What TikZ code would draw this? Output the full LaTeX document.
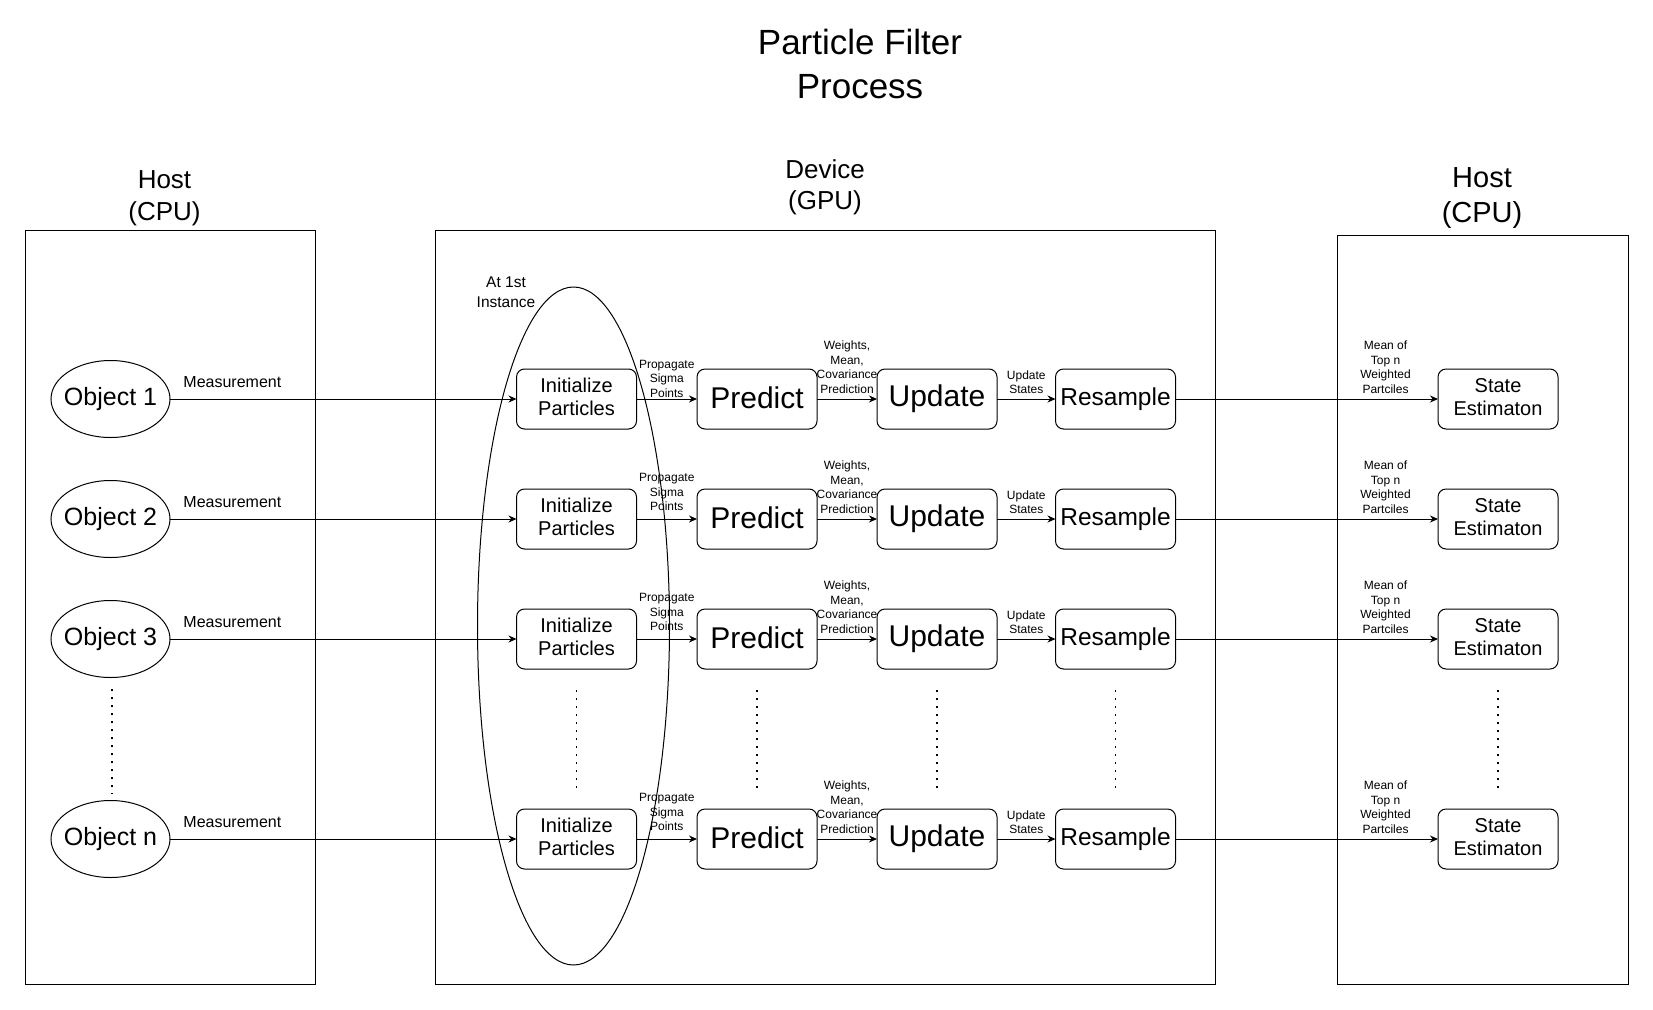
\documentclass[tikz,border=0pt]{standalone}
\usepackage{fontspec}
\setmainfont{Liberation Sans}
\usetikzlibrary{arrows.meta,shapes.geometric}
\newcommand{\fsz}[2]{\fontsize{#1pt}{#2pt}\selectfont}
\begin{document}
\begin{tikzpicture}[x=1pt,y=-1pt,
 every node/.style={inner sep=0pt, outer sep=0pt},
 frame/.style={draw, line width=1pt, rectangle},
 obj/.style={draw, ellipse, line width=1pt, minimum width=119pt, minimum height=77pt, font=\fsz{25}{30}},
 proc/.style={draw, rectangle, rounded corners=8pt, line width=1pt, minimum width=120pt, minimum height=60pt, align=center},
 flow/.style={draw, line width=1pt, -{Stealth[length=8pt,width=7pt]}},
 lbl/.style={align=center, font=\fsz{12}{14.5}},
 dotline/.style={line width=1.8pt, dash pattern=on 1.8pt off 6.2pt},
]
\useasboundingbox (0,0) rectangle (1653,1009);

% title and area labels
\node[align=center, font=\fsz{35}{44}] (title) at (860,64) {Particle Filter\\Process};
\node[align=center, font=\fsz{26}{32}] (hostLlbl) at (164.5,198) {Host\\(CPU)};
\node[align=center, font=\fsz{26}{31}] (devlbl) at (825,187) {Device\\(GPU)};
\node[align=center, font=\fsz{29}{35}] (hostRlbl) at (1482,198) {Host\\(CPU)};

% frames
\node[frame, minimum width=290pt, minimum height=754pt] (hostL) at (170,607) {};
\node[frame, minimum width=780pt, minimum height=754pt] (dev) at (825,607) {};
\node[frame, minimum width=291pt, minimum height=749pt] (hostR) at (1482.5,609.5) {};

% first instance ellipse
\node[draw, ellipse, line width=1pt, minimum width=192pt, minimum height=678pt] (first) at (573.5,626) {};
\node[align=center, font=\fsz{15.5}{19.5}] (firstlbl) at (506,292) {At 1st\\Instance};

% rows
\foreach \r/\y/\ps in {1/399/20.5, 2/519/27, 3/639/27, n/839/27} {
 \node[obj] (obj\r) at (110.5,\y) {\makebox[0pt]{Object \r}};
 \node[proc, font=\fsz{20}{23}] (init\r) at (576.5,\y) {\raisebox{1.5pt}{\begin{tabular}{@{}c@{}}Initialize\\Particles\end{tabular}}};
 \node[proc, font=\fsz{30}{34}] (pred\r) at (757,\y) {\raisebox{2pt}{Predict}};
 \node[proc, font=\fsz{30}{34}] (upd\r) at (937,\y) {Update};
 \node[proc, font=\fsz{24.5}{28}] (res\r) at (1115.5,\y) {Resample};
 \node[proc, font=\fsz{20}{23}] (st\r) at (1498,\y) {\raisebox{1.5pt}{\begin{tabular}{@{}c@{}}State\\Estimaton\end{tabular}}};
 \draw[flow] (obj\r) -- node[pos=0.18, yshift=17pt, font=\fsz{16}{19}] {Measurement} (init\r);
 \draw[flow] (init\r) -- node[lbl, pos=0.5, yshift=\ps pt] {Propagate\\Sigma\\Points} (pred\r);
 \draw[flow] (pred\r) -- node[lbl, pos=0.5, yshift=32pt] {Weights,\\Mean,\\Covariance\\Prediction} (upd\r);
 \draw[flow] (upd\r) -- node[lbl, pos=0.5, yshift=17pt] {Update\\States} (res\r);
 \draw[flow] (res\r) -- node[lbl, pos=0.8, yshift=32pt] {Mean of\\Top n\\Weighted\\Partciles} (st\r);
}

% vertical dots
\draw[dotline] (112,689) -- (112,794);
\foreach \x in {576.5, 757, 937, 1115.5, 1498} {
 \draw[dotline] (\x,690) -- (\x,790);
}
\end{tikzpicture}
\end{document}
